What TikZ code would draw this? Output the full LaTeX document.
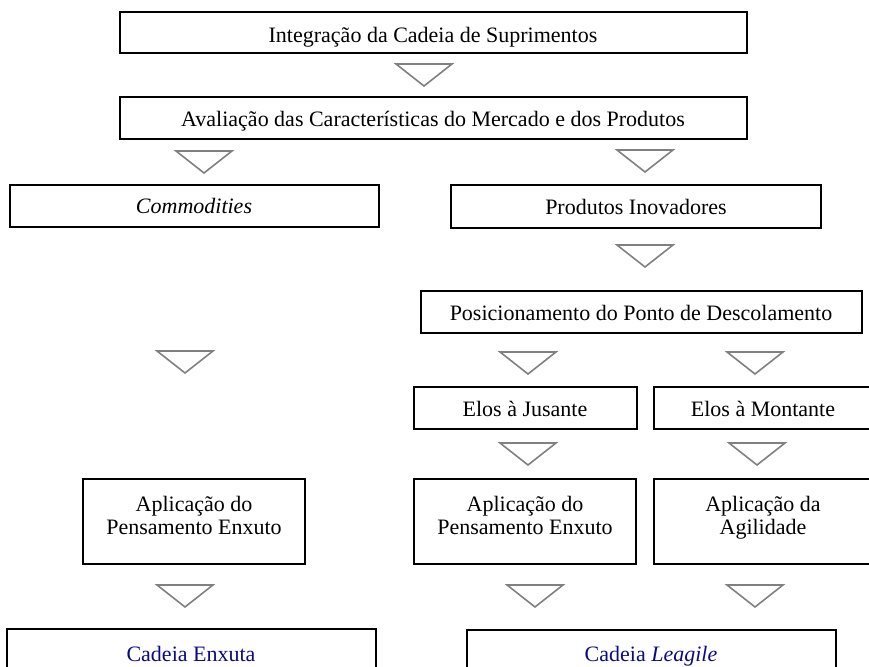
\documentclass[tikz,border=0pt]{standalone}
\usepackage{fontspec}
\setmainfont{Liberation Serif}
\usepackage{tikz}
\usetikzlibrary{positioning}

\definecolor{setagray}{RGB}{128,128,128}
\definecolor{cadeiablue}{RGB}{10,10,135}
\tikzset{
  caixa/.style={draw=black, line width=1.1pt},
  rotulo/.style={font=\fontsize{11}{11.5}\selectfont, inner sep=0pt},
  seta/.style={draw=setagray, line width=0.8pt},
}

\begin{document}
\begin{tikzpicture}[x=0.5pt, y=-0.5pt]
\clip (0,0) rectangle (869,667);

% Topo: integracao e avaliacao
\draw[caixa] (120,12) rectangle (747,53);
\node[rotulo, anchor=base] (integ) at (433,43) {Integração da Cadeia de Suprimentos};
\draw[caixa] (120,97) rectangle (747,139);
\node[rotulo, anchor=base] (aval) at (433,127) {Avaliação das Características do Mercado e dos Produtos};

% Tipos de produto
\draw[caixa] (10,185) rectangle (379,227);
\node[rotulo, anchor=base] (commod) at (194,214) {\textit{Commodities}};
\draw[caixa] (451,185) rectangle (821,228);
\node[rotulo, anchor=base] (inov) at (636,215) {Produtos Inovadores};

% Ponto de descolamento e elos
\draw[caixa] (421,291) rectangle (862,333);
\node[rotulo, anchor=base] (posic) at (641,321) {Posicionamento do Ponto de Descolamento};
\draw[caixa] (414,387) rectangle (637,429);
\node[rotulo, anchor=base] (jusante) at (525,417) {Elos à Jusante};
\draw[caixa] (654,387) rectangle (872,429);
\node[rotulo, anchor=base] (montante) at (763,417) {Elos à Montante};

% Aplicacoes
\draw[caixa] (83,479) rectangle (305,564);
\node[rotulo, anchor=base] (enxL) at (194,512) {Aplicação do};
\node[rotulo, anchor=base] (enxL2) at (194,535) {Pensamento Enxuto};
\draw[caixa] (414,479) rectangle (636,564);
\node[rotulo, anchor=base] (enxR) at (525,512) {Aplicação do};
\node[rotulo, anchor=base] (enxR2) at (525,535) {Pensamento Enxuto};
\draw[caixa] (654,479) rectangle (872,564);
\node[rotulo, anchor=base] (agil) at (763,512) {Aplicação da};
\node[rotulo, anchor=base] (agil2) at (763,535) {Agilidade};

% Cadeias resultantes
\draw[caixa] (7,629) rectangle (376,700);
\node[rotulo, anchor=base, text=cadeiablue] (cadEnx) at (191,662) {Cadeia Enxuta};
\draw[caixa] (467,630) rectangle (836,700);
\node[rotulo, anchor=base, text=cadeiablue] (cadLeag) at (651,662) {Cadeia \textit{Leagile}};

% Setas (triangulos)
\foreach \x/\y in {424/64, 204/151, 645/150, 645/245, 185/351, 528/352, 755/352,
                   528/443, 757/443, 185/585, 535/585, 755/585} {
    \draw[seta] (\x-28,\y) -- (\x+28,\y) -- (\x,\y+22) -- cycle;
}
\end{tikzpicture}
\end{document}
